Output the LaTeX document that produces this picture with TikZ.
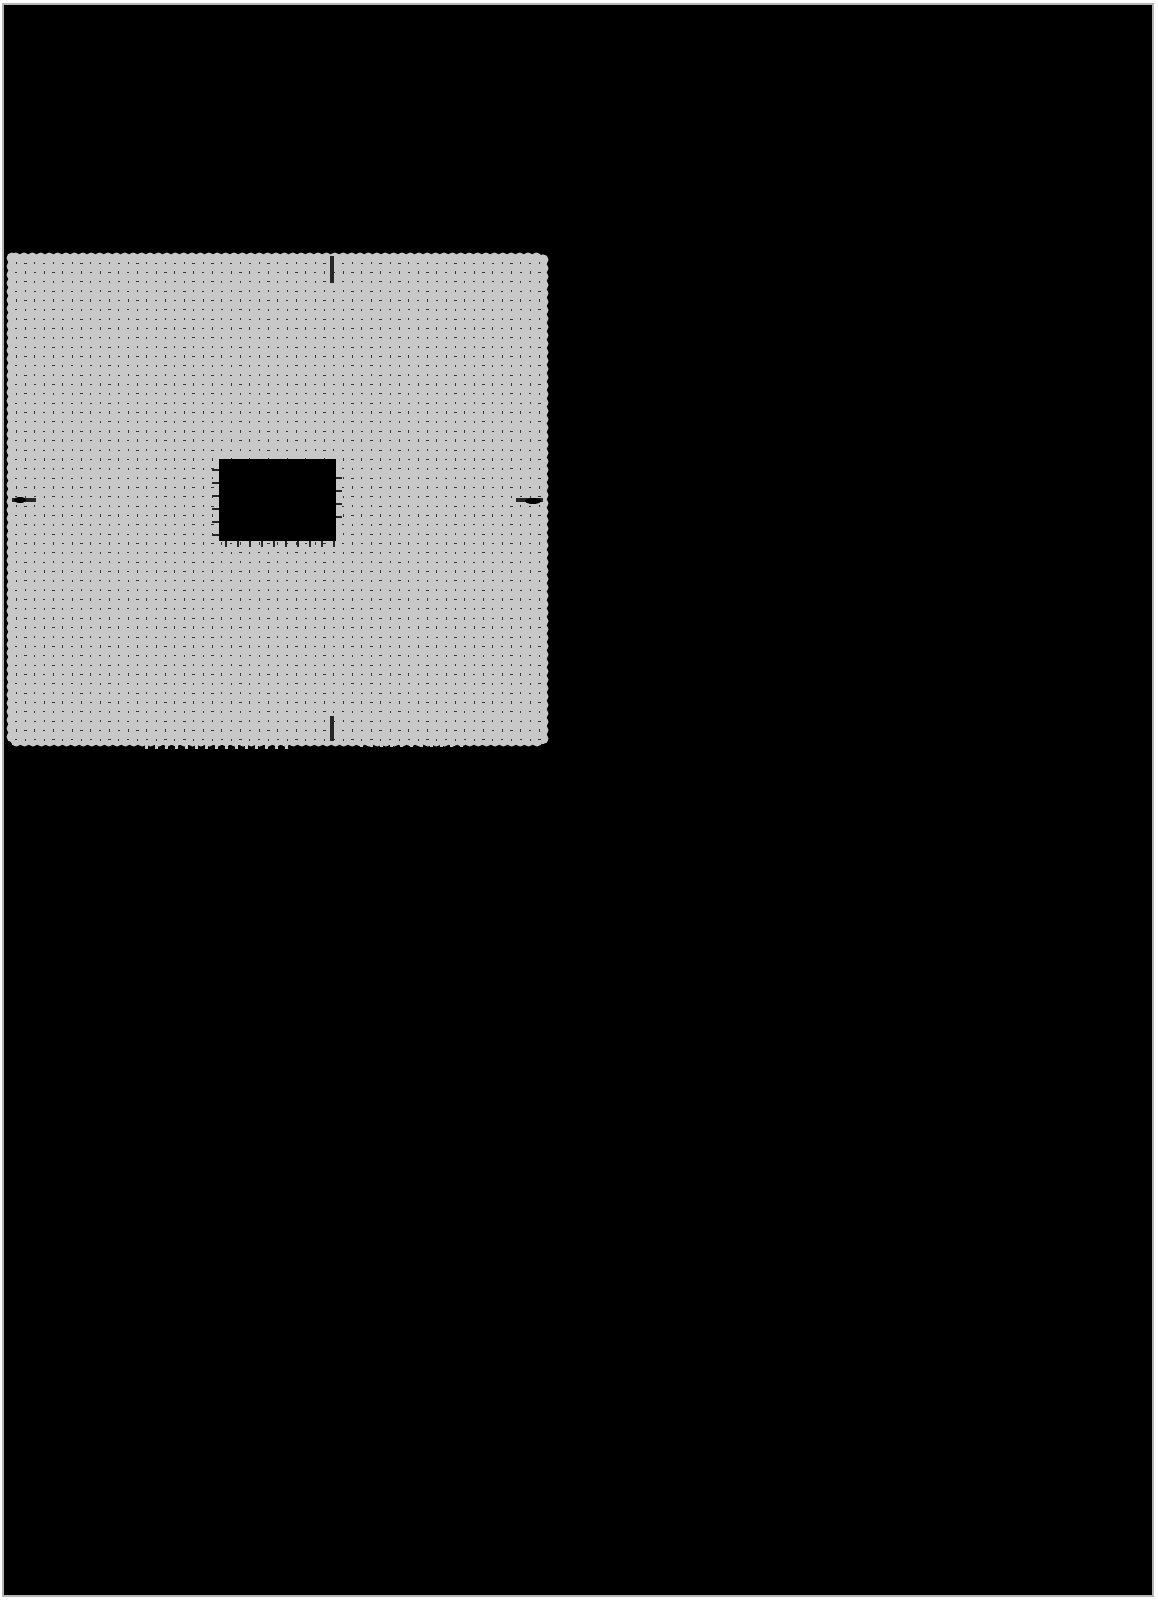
\documentclass[tikz,border=0pt]{standalone}
\begin{document}
\begin{tikzpicture}[x=0.5pt,y=-0.5pt,
  dotmark/.style={fill=black!80},
  tickmark/.style={draw=black!85,line width=1.6},
  scallop/.style={draw=sqgray,line width=5.5,dash pattern=on 0pt off 4.2pt,line cap=round}]
\definecolor{sqgray}{HTML}{C8C8C8}
\definecolor{rimgray}{HTML}{B4B4B4}
\useasboundingbox (0,0) rectangle (1157,1600);
\fill[white] (0,0) rectangle (1157,1600);
% outer black field
\fill[black] (3,4) rectangle (1153,1596);
\draw[rimgray,line width=1] (3,4) rectangle (1153,1596);
% grey square
\fill[sqgray] (12,258) rectangle (543,741);
\draw[scallop] (12,258) rectangle (543,741);
% dot grid (short marks of alternating direction)
\foreach \i in {0,...,56}{
  \foreach \j in {0,...,51}{
    \pgfmathtruncatemacro{\odd}{mod(\i+\j,2)}
    \ifnum\odd=0
      \fill[dotmark] (16+\i*9.35-0.5,263+\j*9.35-1.2) rectangle (16+\i*9.35+0.5,263+\j*9.35+1.2);
    \else
      \fill[dotmark] (16+\i*9.35-1.2,263+\j*9.35-0.5) rectangle (16+\i*9.35+1.2,263+\j*9.35+0.5);
    \fi
  }
}
% tiny grey fringe below the square
\fill[sqgray] (145,741) rectangle (295,745);
\foreach \k in {0,...,14}{
  \fill[sqgray] (145+\k*10,741) rectangle (148+\k*10,749);
}
\foreach \k in {0,...,10}{
  \fill[sqgray] (360+\k*10,741) rectangle (363+\k*10,747);
}
% central black rectangle with small ticks
\fill[black] (219,459) rectangle (336,541);
\foreach \k in {0,...,9}{
  \draw[black!85,line width=1.2] (226+\k*12,541) -- (226+\k*12,547);
}
\foreach \k in {0,...,5}{
  \draw[black!85,line width=1.2] (212,470+\k*13) -- (219,470+\k*13);
}
\foreach \k in {0,...,3}{
  \draw[black!85,line width=1.2] (336,478+\k*13) -- (342,478+\k*13);
}
% registration ticks on the square's edges
\draw[tickmark] (332,256) -- (332,283);
\draw[tickmark] (332,741) -- (332,716);
\draw[tickmark] (12,500) -- (36,500);
\draw[tickmark] (543,500) -- (516,500);
\fill[black] (20,500) ellipse (6 and 3);
\fill[black] (533,501) ellipse (8 and 3);
\end{tikzpicture}
\end{document}
